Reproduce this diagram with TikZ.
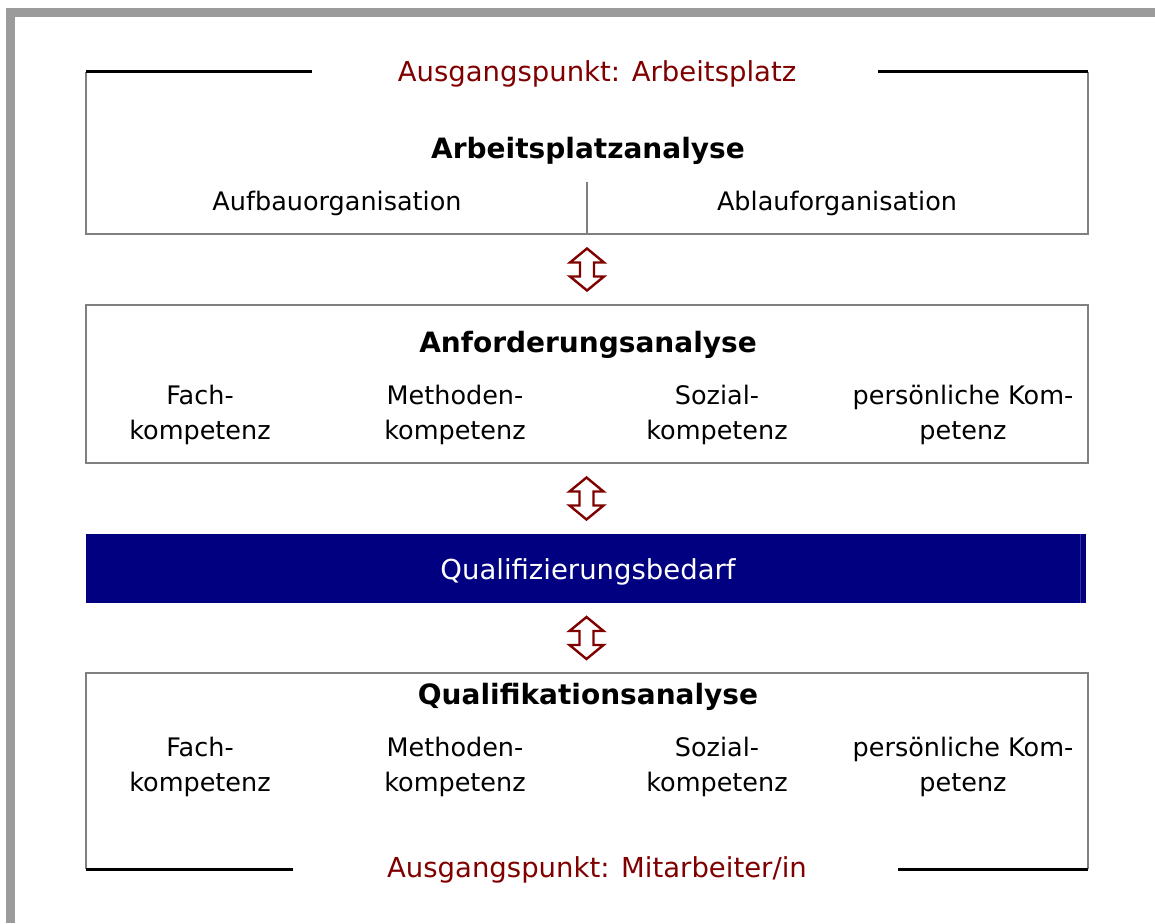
\documentclass[tikz,border=0pt]{standalone}
\usepackage{fontspec}
\setmainfont{DejaVu Sans}
\usetikzlibrary{calc}
\definecolor{dred}{HTML}{800000}
\definecolor{navyblue}{HTML}{000080}
\definecolor{framegray}{HTML}{9B9B9B}
\definecolor{linegray}{HTML}{808080}
\begin{document}
\begin{tikzpicture}[x=1pt,y=-1pt,
  boxline/.style={draw=linegray,line width=2pt},
  blackline/.style={draw=black,line width=2.6pt},
  area/.style={rectangle,inner sep=0pt,minimum width=1002pt},
  titletext/.style={font=\fontsize{28}{30}\selectfont\bfseries,inner sep=0pt},
  bodytext/.style={font=\fontsize{25.5}{35}\selectfont,align=center,inner sep=0pt},
  redtext/.style={font=\fontsize{27.5}{30}\selectfont,text=dred,inner sep=0pt},
  dblarrow/.pic={\draw[dred,line width=2.4pt,fill=white,line join=miter]
     (0,-21)--(17,-7)--(7,-7)--(7,7)--(17,7)--(0,21)--(-17,7)--(-7,7)--(-7,-7)--(-17,-7)--cycle;}
]
\useasboundingbox (0,0) rectangle (1155,923);
% outer frame
\fill[framegray] (6,8) rectangle (15,923);
\fill[framegray] (6,8) rectangle (1155,17);

% box 1
\node[area,minimum height=162pt] (box1) at (587,153) {};
\draw[boxline] (box1.north west) -- (box1.south west) -- (box1.south east) -- (box1.north east);
\draw[blackline] (box1.north west) -- ++(226,0);
\draw[blackline] (box1.north east) -- ++(-210,0);
\coordinate (div1) at (587,182);
\draw[boxline] (div1) -- (div1 |- box1.south);
\node[redtext] (start1) at (597,74) {Ausgangspunkt: Arbeitsplatz};
\node[titletext] (t1) at (588,151) {Arbeitsplatzanalyse};
\node[bodytext] (aufbau) at (337,203) {Aufbauorganisation};
\node[bodytext] (ablauf) at (837,203) {Ablauforganisation};

% box 2
\node[area,minimum height=158pt] (box2) at (587,384) {};
\draw[boxline] (box2.north west) rectangle (box2.south east);
\node[titletext] (t2) at (588,345) {Anforderungsanalyse};
\node[bodytext] (a1) at (200,415) {Fach-\\kompetenz};
\node[bodytext] (a2) at (455,415) {Methoden-\\kompetenz};
\node[bodytext] (a3) at (717,415) {Sozial-\\kompetenz};
\node[bodytext] (a4) at (963,415) {persönliche Kom-\\petenz};

% blue bar
\node[area,minimum width=1000pt,minimum height=69pt,fill=navyblue] (bar) at (586,568.5) {};
\draw[draw=navyblue!80!white,line width=1pt] ($(bar.north east)+(-6,0)$) -- ($(bar.south east)+(-6,0)$);
\node[inner sep=0pt,text=white,font=\fontsize{27.5}{30}\selectfont] (bartext) at ($(bar.center)+(2,3.5)$) {Qualifizierungsbedarf};

% box 4
\node[area,minimum height=196pt] (box4) at (587,771) {};
\draw[boxline] (box4.south west) -- (box4.north west) -- (box4.north east) -- (box4.south east);
\draw[blackline] (box4.south west) -- ++(207,0);
\draw[blackline] (box4.south east) -- ++(-190,0);
\node[titletext] (t4) at (588,697) {Qualifikationsanalyse};
\node[bodytext] (q1) at (200,767) {Fach-\\kompetenz};
\node[bodytext] (q2) at (455,767) {Methoden-\\kompetenz};
\node[bodytext] (q3) at (717,767) {Sozial-\\kompetenz};
\node[bodytext] (q4) at (963,767) {persönliche Kom-\\petenz};
\node[redtext] (start2) at (597,870) {Ausgangspunkt: Mitarbeiter/in};

% double arrows
\path ($(box1.south)!0.5!(box2.north)$) pic {dblarrow};
\path ($(box2.south)!0.5!(bar.north)$) pic {dblarrow};
\path ($(bar.south)!0.5!(box4.north)$) pic {dblarrow};
\end{tikzpicture}
\end{document}
